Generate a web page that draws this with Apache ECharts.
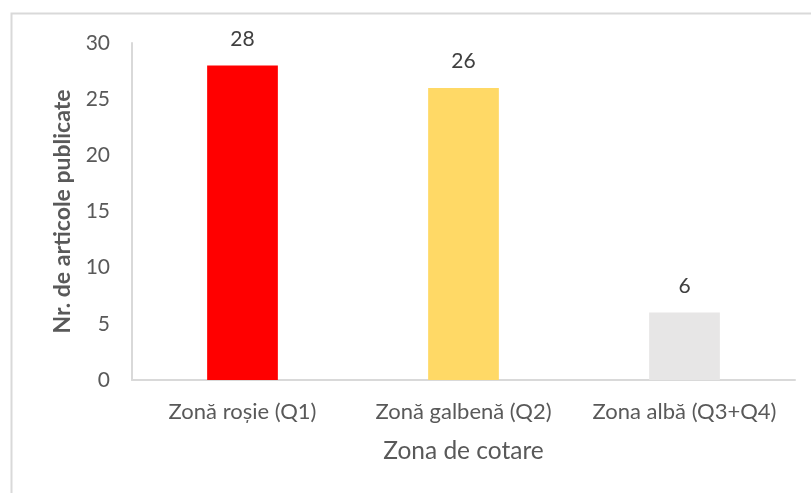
<!DOCTYPE html>
<html>
<head>
<meta charset="utf-8">
<script src="https://cdn.jsdelivr.net/npm/echarts@6/dist/echarts.min.js"></script>
<style>
  html, body { margin: 0; padding: 0; background: #fff; }
  #chart { width: 811px; height: 493px; }
</style>
</head>
<body>
<div id="chart"></div>
<script>
// date din grafic
const categorii = ['Zonă roșie (Q1)', 'Zonă galbenă (Q2)', 'Zona albă (Q3+Q4)']
const articole = [28, 26, 6]
const culori = ['#FF0000', '#FFD966', '#E7E6E6']
const fontFam = 'Lato, "Open Sans", sans-serif'

let chart = echarts.init(document.getElementById('chart'))
chart.setOption({
    animation: false,
    graphic: [{
        type: 'rect',
        shape: { x: 11.5, y: 13.5, width: 900, height: 600 },
        style: { fill: 'none', stroke: '#d9d9d9', lineWidth: 2 }
    }],
    grid: { left: 132, right: 16, top: 43, bottom: 113 },
    xAxis: {
        type: 'category',
        data: categorii,
        name: 'Zona de cotare',
        nameLocation: 'middle',
        nameGap: 59,
        nameTextStyle: { fontSize: 24.5, color: '#595959', fontFamily: fontFam },
        axisLine: { lineStyle: { color: '#d9d9d9', width: 2 } },
        axisTick: { show: false },
        axisLabel: {
            interval: 0,
            hideOverlap: false,
            fontSize: 22, color: '#595959', fontFamily: fontFam, margin: 21
        }
    },
    yAxis: {
        type: 'value',
        min: 0, max: 30, interval: 5,
        name: 'Nr. de articole publicate',
        nameLocation: 'middle',
        nameGap: 58,
        nameTextStyle: { fontSize: 23, color: '#595959', fontWeight: 'bold', fontFamily: fontFam },
        axisLine: { show: true, lineStyle: { color: '#d9d9d9', width: 2 } },
        splitLine: { show: false },
        axisLabel: { fontSize: 21, color: '#595959', fontFamily: fontFam, margin: 22 }
    },
    series: [{
        type: 'bar',
        barWidth: '32%',
        data: articole.map((v, i) => ({ value: v, itemStyle: { color: culori[i] } })),
        label: {
            show: true,
            position: 'top',
            distance: 16,
            fontSize: 21,
            color: '#404040',
            fontFamily: fontFam
        }
    }]
})
</script>
</body>
</html>
